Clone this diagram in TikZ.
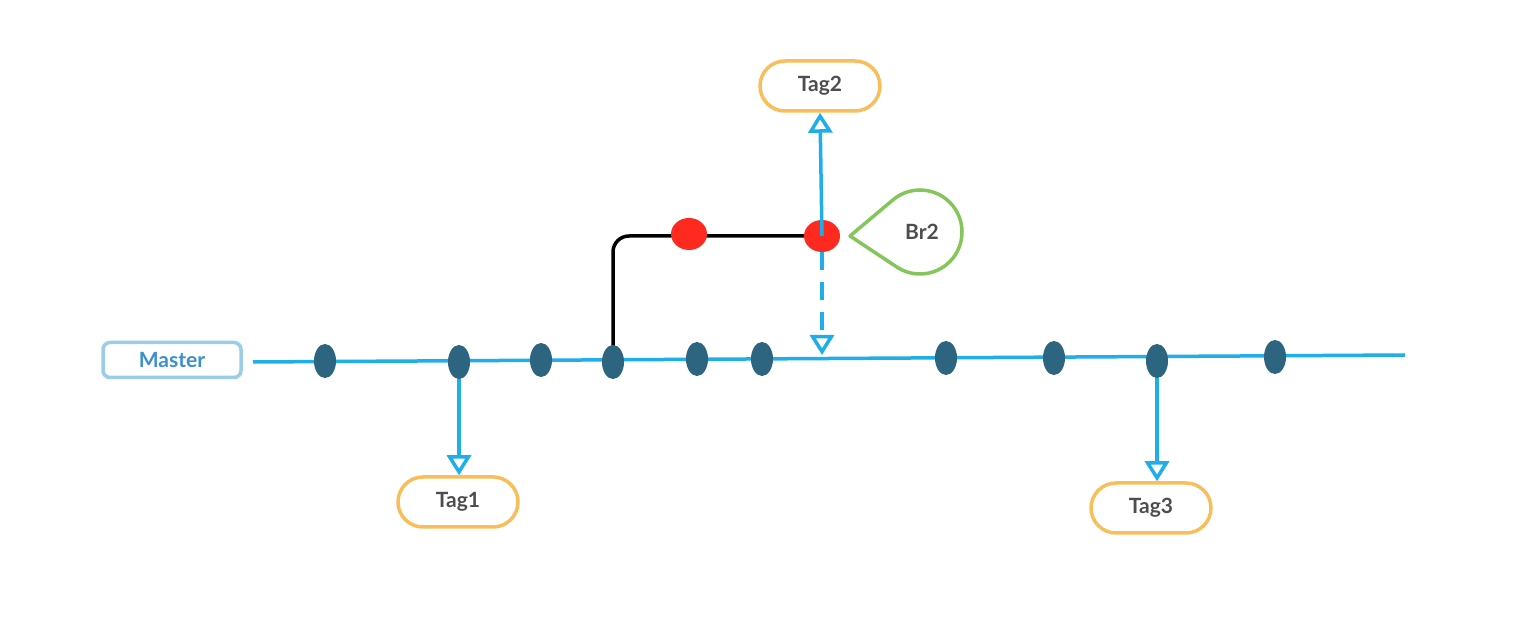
\documentclass[tikz,border=0pt]{standalone}
\usepackage{fontspec}
\setmainfont{Lato}
\usetikzlibrary{arrows.meta,shapes.geometric,calc,backgrounds}
\definecolor{lineblue}{HTML}{1FAEE9}
\definecolor{dotblue}{HTML}{2D6580}
\definecolor{tagorange}{HTML}{F9BE5A}
\definecolor{txtgray}{HTML}{4D4D4D}
\definecolor{redd}{HTML}{FF2A1F}
\definecolor{brgreen}{HTML}{84C65C}
\definecolor{masterborder}{HTML}{9ACDEB}
\definecolor{mastertext}{HTML}{3A8FD0}
\tikzset{
  commit/.style={ellipse, fill=dotblue, minimum width=22pt, minimum height=34pt, inner sep=0pt},
  redcommit/.style={ellipse, fill=redd, minimum width=36pt, minimum height=32pt, inner sep=0pt},
  labeltext/.style={font=\fontsize{21}{24}\selectfont\bfseries, text=txtgray},
  tagbox/.style={labeltext, draw=tagorange, line width=3.5pt, rounded corners=25pt, minimum width=120pt, minimum height=50pt, inner sep=0pt},
  masterbox/.style={draw=masterborder, line width=3.5pt, rounded corners=7pt, minimum width=138pt, minimum height=35pt, inner sep=0pt, font=\fontsize{21}{24}\selectfont\bfseries, text=mastertext},
  mainline/.style={draw=lineblue, line width=3.5pt},
  tagarrow/.style={draw=lineblue, line width=3.5pt, -{Triangle[open, width=24pt, length=20pt, line width=3.5pt]}},
}
\begin{document}
\begin{tikzpicture}[x=1pt,y=1pt]
\useasboundingbox (0,0) rectangle (1524,624);
% nodes
\node[masterbox] (master) at (172,264) {Master};
\coordinate (ls) at (253,262);
\coordinate (le) at (1405,269);
\node[commit] (d1) at (325,263) {};
\node[commit] (d2) at (459,262) {};
\node[commit] (d3) at (541,264) {};
\node[commit] (d4) at (613,262) {};
\node[commit] (d5) at (697,265) {};
\node[commit] (d6) at (762,265) {};
\node[commit] (d7) at (946,266) {};
\node[commit] (d8) at (1054,266) {};
\node[commit] (d9) at (1157,263) {};
\node[commit] (d10) at (1275,267) {};
\node[redcommit] (r1) at (689,390) {};
\node[redcommit] (r2) at (822,388) {};
\node[tagbox] (tag1) at (458,122) {Tag1};
\node[tagbox] (tag2) at (820,538) {Tag2};
\node[tagbox] (tag3) at (1151,116) {Tag3};
\coordinate (m2) at (822,269);
% Br2 teardrop
\draw[brgreen, line width=3.5pt, line join=round] (850,388) -- ($(920,392)+(130:42)$) arc[start angle=130, end angle=-124, radius=42] -- cycle;
\node[labeltext] (br2) at (922,392) {Br2};
% connectors
\begin{pgfonlayer}{background}
\path[mainline] (ls) -- (le);
\draw[tagarrow] (d2.center) -- (d2.center |- tag1.north);
\draw[tagarrow] (d9.center) -- (d9.center |- tag3.north);
\draw[tagarrow, dash pattern=on 18pt off 12pt] (r2.south) -- (m2);
\draw[black, line width=3.5pt, rounded corners=16pt] (d4.center) |- (r2.center);
\end{pgfonlayer}
\draw[tagarrow] (r2.center) -- (tag2.south);
\end{tikzpicture}
\end{document}
